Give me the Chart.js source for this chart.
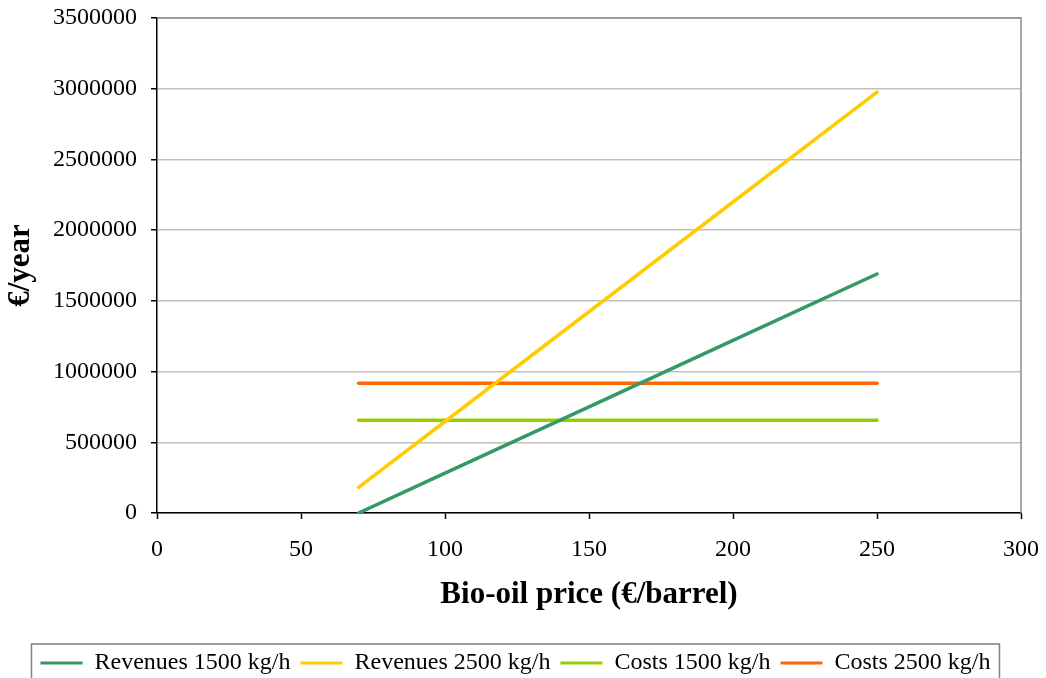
<!DOCTYPE html>
<html>
<head>
<meta charset="utf-8">
<script src="https://cdn.jsdelivr.net/npm/chart.js@4.4.1/dist/chart.umd.min.js"></script>
<style>
html,body{margin:0;padding:0;background:#fff;}
#wrap{width:1046px;height:678px;position:relative;overflow:hidden;}
</style>
</head>
<body>
<div id="wrap"><canvas id="c" width="1046" height="678"></canvas></div>
<script>
const prices = [70, 100, 150, 200, 250];
const revenues1500 = [0, 282000, 751000, 1221000, 1690000];
const revenues2500 = [181000, 647000, 1423000, 2199000, 2976000];
const costs1500 = [655000, 655000, 655000, 655000, 655000];
const costs2500 = [918000, 918000, 918000, 918000, 918000];
const seriesNames = ['Revenues 1500 kg/h', 'Revenues 2500 kg/h', 'Costs 1500 kg/h', 'Costs 2500 kg/h'];
const seriesColors = ['#339966', '#FFCC00', '#99CC00', '#FF6600'];
const xTitle = 'Bio-oil price (€/barrel)';
const yTitle = '€/year';

const FONT = "'Liberation Serif', serif";
const allSeries = [revenues1500, revenues2500, costs1500, costs2500];

const datasets = allSeries.map((vals, i) => ({
  label: seriesNames[i],
  data: prices.map((p, j) => ({x: p, y: vals[j]})),
  borderColor: seriesColors[i],
  backgroundColor: seriesColors[i],
  borderWidth: 3.5,
  pointRadius: 0,
  tension: 0,
  borderCapStyle: 'round'
}));

const framePlugin = {
  id: 'frame',
  beforeDatasetsDraw(chart) {
    const {ctx, chartArea: a} = chart;
    ctx.save();
    ctx.strokeStyle = '#8c8c8c';
    ctx.lineWidth = 1.5;
    ctx.beginPath();
    ctx.moveTo(a.left, a.top);
    ctx.lineTo(a.right, a.top);
    ctx.lineTo(a.right, a.bottom);
    ctx.stroke();
    ctx.restore();
  },
  afterDraw(chart) {
    const lg = chart.legend;
    if (!lg || !lg.legendHitBoxes || !lg.legendHitBoxes.length) return;
    const hb = lg.legendHitBoxes;
    const first = hb[0], last = hb[hb.length - 1];
    const ctx = chart.ctx;
    ctx.save();
    ctx.strokeStyle = '#808080';
    ctx.lineWidth = 1.5;
    const l = first.left - 9, r = last.left + last.width + 9;
    const t = first.top - 7;
    ctx.strokeRect(l, t, r - l, 60);
    ctx.restore();
  }
};

new Chart(document.getElementById('c'), {
  type: 'line',
  data: {datasets},
  plugins: [framePlugin],
  options: {
    responsive: false,
    animation: false,
    layout: {padding: {left: 10, right: 25, top: 18, bottom: -7}},
    plugins: {
      tooltip: {enabled: false},
      legend: {
        position: 'bottom',
        labels: {
          font: {family: FONT, size: 24},
          color: '#000',
          boxWidth: 42,
          boxHeight: 3,
          padding: 10,
          generateLabels(chart) {
            return chart.data.datasets.map((d, i) => ({
              text: d.label,
              fillStyle: d.borderColor,
              strokeStyle: d.borderColor,
              lineWidth: 0,
              hidden: false,
              datasetIndex: i,
              fontColor: '#000'
            }));
          }
        }
      }
    },
    scales: {
      x: {
        type: 'linear',
        min: 0, max: 300,
        ticks: {stepSize: 50, font: {family: FONT, size: 24}, color: '#000', padding: 16, maxRotation: 0},
        grid: {drawOnChartArea: false, tickLength: 6, tickColor: '#000', tickWidth: 1.5},
        border: {color: '#000', width: 1.5},
        title: {display: true, text: xTitle, font: {family: FONT, size: 31, weight: 'bold'}, color: '#000', padding: {top: 0, bottom: 27}},
        afterFit(s) { s.height = 128; s.paddingLeft = 0; s.paddingRight = 0; }
      },
      y: {
        min: 0, max: 3500000,
        ticks: {stepSize: 500000, font: {family: FONT, size: 24}, color: '#000', padding: 14,
          callback: v => String(v)},
        grid: {color: '#c0c0c0', lineWidth: 1.5, tickLength: 6, tickColor: '#000', tickWidth: 1.5},
        border: {color: '#000', width: 1.5},
        title: {display: true, text: yTitle, font: {family: FONT, size: 31, weight: 'bold'}, color: '#000', padding: {top: -8, bottom: 0}},
        afterFit(s) { s.width = 147; s.paddingTop = 0; s.paddingBottom = 0; }
      }
    }
  }
});
</script>
</body>
</html>
